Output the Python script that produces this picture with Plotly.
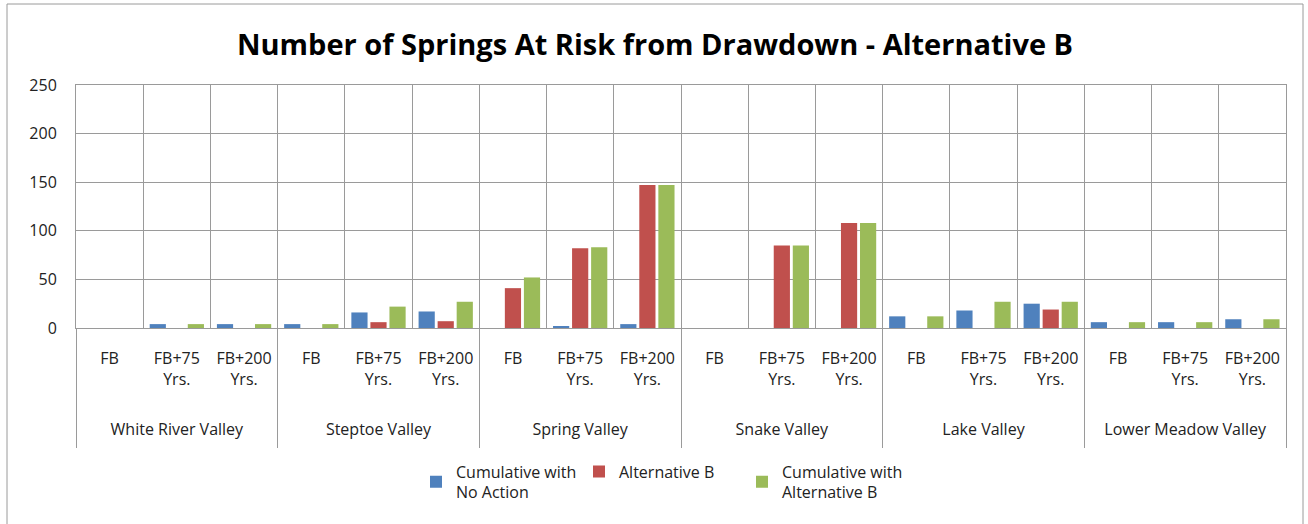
import plotly.graph_objects as go

valleys = ["White River Valley", "Steptoe Valley", "Spring Valley",
           "Snake Valley", "Lake Valley", "Lower Meadow Valley"]
periods = ["FB", "FB+75<br>Yrs.", "FB+200<br>Yrs."]

no_action = [0, 4, 4,   4, 16, 17,   0, 2, 4,    0, 0, 0,      12, 18, 25,  6, 6, 9]
alt_b     = [0, 0, 0,   0, 6, 7,     41, 82, 147, 0, 85, 108,  0, 0, 19,    0, 0, 0]
cum_alt_b = [0, 4, 4,   4, 22, 27,   52, 83, 147, 0, 85, 108,  12, 27, 27,  6, 6, 9]

series_names = ["Cumulative with<br>No Action", "Alternative B", "Cumulative with<br>Alternative B"]
colors = ["#4F81BD", "#C0504D", "#9BBB59"]

n_per = len(periods)
cat_labels = [p for _ in valleys for p in periods]
cat_pos = list(range(len(cat_labels)))
group_pos = [i * n_per + (n_per - 1) / 2 for i in range(len(valleys))]
group_bounds = [i * n_per - 0.5 for i in range(len(valleys) + 1)]
cat_bounds = [i - 0.5 for i in range(len(cat_labels) + 1)]
x_range = [-0.5, len(cat_labels) - 0.5]

fig = go.Figure()
for name, vals, col in zip(series_names, [no_action, alt_b, cum_alt_b], colors):
    fig.add_trace(go.Bar(x=cat_pos, y=vals, name=name, marker_color=col,
                         marker_line_width=0, xaxis="x", yaxis="y"))
# carrier for the valley (group) axis
fig.add_trace(go.Scatter(x=group_pos, y=[0] * len(group_pos), xaxis="x2", yaxis="y",
                         mode="markers", marker=dict(opacity=0, size=1),
                         showlegend=False, hoverinfo="skip"))

font = "'Open Sans', 'Noto Sans', sans-serif"
grid = "#9a9a9a"
W, H = 1308, 524
ml, mr, mt, mb = 76, 22, 85, 196
pw, ph = W - ml - mr, H - mt - mb

def px_x(p):
    return (p - ml) / pw

def px_y(p):
    return (H - mb - p) / ph

fig.update_layout(
    width=W, height=H,
    margin=dict(l=ml, r=mr, t=mt, b=mb),
    paper_bgcolor="white", plot_bgcolor="white",
    barmode="group", bargap=0.15, bargroupgap=0.15,
    font=dict(family=font, size=16, color="#222"),
    title=dict(text="Number of Springs At Risk from Drawdown - Alternative B",
               x=px_x(655), xanchor="center", xref="paper", y=1 - 45 / H, yanchor="middle",
               font=dict(family=font, size=29, color="#000", weight="bold")),
    xaxis=dict(range=x_range, tickmode="array", tickvals=cat_pos, ticktext=cat_labels,
               showgrid=False, zeroline=False,
               minor=dict(tickmode="array", tickvals=cat_bounds, showgrid=True,
                          gridcolor=grid, gridwidth=1, ticks=""),
               showline=True, linecolor=grid, mirror=True,
               ticks="", ticklabelstandoff=16, tickfont=dict(size=16, color="#222"),
               fixedrange=True),
    xaxis2=dict(range=x_range, overlaying="x", anchor="y", side="bottom",
                tickmode="array", tickvals=group_pos, ticktext=valleys,
                showgrid=False, zeroline=False, showline=False,
                ticks="", ticklabelstandoff=90, tickfont=dict(size=16, color="#222"),
                minor=dict(tickmode="array", tickvals=group_bounds, ticks="outside",
                           ticklen=119, tickcolor=grid, tickwidth=1, showgrid=False),
                fixedrange=True),
    yaxis=dict(range=[0, 250], dtick=50, showgrid=True, gridcolor=grid, gridwidth=1,
               showline=True, linecolor=grid, mirror=True, zeroline=False,
               ticks="", ticklabelstandoff=15, tickfont=dict(size=16, color="#222"),
               fixedrange=True),
    legend=dict(orientation="h", x=px_x(416), xanchor="left", y=px_y(482), yanchor="middle",
                font=dict(size=16, color="#222"), traceorder="normal",
                itemwidth=30, entrywidth=118, entrywidthmode="pixels"),
    shapes=[dict(type="rect", xref="paper", yref="paper",
                 x0=px_x(7), x1=px_x(1303), y0=px_y(530), y1=px_y(4),
                 line=dict(color=grid, width=1), fillcolor="rgba(0,0,0,0)", layer="below")],
)

fig.write_html("out.html", config={"displayModeBar": False},
               post_script="document.body.style.margin='0px';")
